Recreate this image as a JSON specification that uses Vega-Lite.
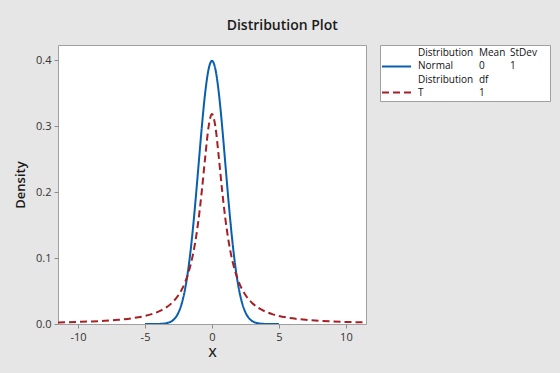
{
  "$schema": "https://vega.github.io/schema/vega-lite/v6.json",
  "background": "#e6e6e6",
  "padding": {"left": 14, "top": 18, "right": 11, "bottom": 13},
  "title": {"text": "Distribution Plot", "anchor": "middle", "frame": "bounds", "font": "Open Sans", "fontSize": 14, "fontWeight": 600, "color": "#1a1a1a", "offset": 12},
  "config": {"font": "Open Sans", "axis": {"labelFont": "Open Sans", "titleFont": "Open Sans"}},
  "datasets": {
    "curves": [
      {"dist": "Normal", "x": -5, "density": 0.0000015},
      {"dist": "Normal", "x": -4.75, "density": 0.000005},
      {"dist": "Normal", "x": -4.5, "density": 0.000016},
      {"dist": "Normal", "x": -4.25, "density": 0.000048},
      {"dist": "Normal", "x": -4, "density": 0.00013},
      {"dist": "Normal", "x": -3.75, "density": 0.00035},
      {"dist": "Normal", "x": -3.5, "density": 0.00087},
      {"dist": "Normal", "x": -3.25, "density": 0.00203},
      {"dist": "Normal", "x": -3, "density": 0.00443},
      {"dist": "Normal", "x": -2.75, "density": 0.00909},
      {"dist": "Normal", "x": -2.5, "density": 0.01753},
      {"dist": "Normal", "x": -2.25, "density": 0.03174},
      {"dist": "Normal", "x": -2, "density": 0.05399},
      {"dist": "Normal", "x": -1.75, "density": 0.08628},
      {"dist": "Normal", "x": -1.5, "density": 0.12952},
      {"dist": "Normal", "x": -1.25, "density": 0.18265},
      {"dist": "Normal", "x": -1, "density": 0.24197},
      {"dist": "Normal", "x": -0.75, "density": 0.30114},
      {"dist": "Normal", "x": -0.5, "density": 0.35207},
      {"dist": "Normal", "x": -0.25, "density": 0.38667},
      {"dist": "Normal", "x": 0, "density": 0.39894},
      {"dist": "Normal", "x": 0.25, "density": 0.38667},
      {"dist": "Normal", "x": 0.5, "density": 0.35207},
      {"dist": "Normal", "x": 0.75, "density": 0.30114},
      {"dist": "Normal", "x": 1, "density": 0.24197},
      {"dist": "Normal", "x": 1.25, "density": 0.18265},
      {"dist": "Normal", "x": 1.5, "density": 0.12952},
      {"dist": "Normal", "x": 1.75, "density": 0.08628},
      {"dist": "Normal", "x": 2, "density": 0.05399},
      {"dist": "Normal", "x": 2.25, "density": 0.03174},
      {"dist": "Normal", "x": 2.5, "density": 0.01753},
      {"dist": "Normal", "x": 2.75, "density": 0.00909},
      {"dist": "Normal", "x": 3, "density": 0.00443},
      {"dist": "Normal", "x": 3.25, "density": 0.00203},
      {"dist": "Normal", "x": 3.5, "density": 0.00087},
      {"dist": "Normal", "x": 3.75, "density": 0.00035},
      {"dist": "Normal", "x": 4, "density": 0.00013},
      {"dist": "Normal", "x": 4.25, "density": 0.000048},
      {"dist": "Normal", "x": 4.5, "density": 0.000016},
      {"dist": "Normal", "x": 4.75, "density": 0.000005},
      {"dist": "Normal", "x": 5, "density": 0.0000015},
      {"dist": "T", "x": -11.5, "density": 0.00239},
      {"dist": "T", "x": -11, "density": 0.00261},
      {"dist": "T", "x": -10, "density": 0.00315},
      {"dist": "T", "x": -9, "density": 0.00388},
      {"dist": "T", "x": -8, "density": 0.0049},
      {"dist": "T", "x": -7, "density": 0.00637},
      {"dist": "T", "x": -6, "density": 0.0086},
      {"dist": "T", "x": -5, "density": 0.01224},
      {"dist": "T", "x": -4.5, "density": 0.01498},
      {"dist": "T", "x": -4, "density": 0.01872},
      {"dist": "T", "x": -3.5, "density": 0.02402},
      {"dist": "T", "x": -3, "density": 0.03183},
      {"dist": "T", "x": -2.5, "density": 0.0439},
      {"dist": "T", "x": -2, "density": 0.06366},
      {"dist": "T", "x": -1.75, "density": 0.07835},
      {"dist": "T", "x": -1.5, "density": 0.09794},
      {"dist": "T", "x": -1.25, "density": 0.12422},
      {"dist": "T", "x": -1, "density": 0.15915},
      {"dist": "T", "x": -0.75, "density": 0.20372},
      {"dist": "T", "x": -0.5, "density": 0.25465},
      {"dist": "T", "x": -0.25, "density": 0.29959},
      {"dist": "T", "x": 0, "density": 0.31831},
      {"dist": "T", "x": 0.25, "density": 0.29959},
      {"dist": "T", "x": 0.5, "density": 0.25465},
      {"dist": "T", "x": 0.75, "density": 0.20372},
      {"dist": "T", "x": 1, "density": 0.15915},
      {"dist": "T", "x": 1.25, "density": 0.12422},
      {"dist": "T", "x": 1.5, "density": 0.09794},
      {"dist": "T", "x": 1.75, "density": 0.07835},
      {"dist": "T", "x": 2, "density": 0.06366},
      {"dist": "T", "x": 2.5, "density": 0.0439},
      {"dist": "T", "x": 3, "density": 0.03183},
      {"dist": "T", "x": 3.5, "density": 0.02402},
      {"dist": "T", "x": 4, "density": 0.01872},
      {"dist": "T", "x": 4.5, "density": 0.01498},
      {"dist": "T", "x": 5, "density": 0.01224},
      {"dist": "T", "x": 6, "density": 0.0086},
      {"dist": "T", "x": 7, "density": 0.00637},
      {"dist": "T", "x": 8, "density": 0.0049},
      {"dist": "T", "x": 9, "density": 0.00388},
      {"dist": "T", "x": 10, "density": 0.00315},
      {"dist": "T", "x": 11, "density": 0.00261},
      {"dist": "T", "x": 11.5, "density": 0.00239}
    ],
    "legendText": [
      {"col": 3.8, "row": 1, "label": "Distribution"},
      {"col": 9.9, "row": 1, "label": "Mean"},
      {"col": 13.0, "row": 1, "label": "StDev"},
      {"col": 3.8, "row": 2, "label": "Normal"},
      {"col": 9.9, "row": 2, "label": "0"},
      {"col": 13.0, "row": 2, "label": "1"},
      {"col": 3.8, "row": 3, "label": "Distribution"},
      {"col": 9.9, "row": 3, "label": "df"},
      {"col": 3.8, "row": 4, "label": "T"},
      {"col": 9.9, "row": 4, "label": "1"}
    ],
    "legendSymbols": [
      {"dist": "Normal", "row": 2, "start": 0.2, "end": 3.1},
      {"dist": "T", "row": 4, "start": 0.2, "end": 3.1}
    ]
  },
  "hconcat": [
    {
      "width": 308,
      "height": 279,
      "view": {"fill": "white", "stroke": "#a0a0a0", "strokeWidth": 1},
      "data": {"name": "curves"},
      "mark": {"type": "line", "strokeWidth": 2, "interpolate": "monotone", "clip": true},
      "encoding": {
        "x": {"field": "x", "type": "quantitative", "title": "X",
          "scale": {"domain": [-11.5, 11.5], "nice": false, "zero": false},
          "axis": {"values": [-10, -5, 0, 5, 10], "labelExpr": "replace(datum.label, '−', '-')", "grid": false, "domain": false, "tickColor": "#8c8c8c", "tickSize": 4, "labelPadding": 3, "labelFontSize": 11, "labelColor": "#333333", "titleFontSize": 13, "titleFontWeight": 600, "titleColor": "#1a1a1a", "titlePadding": 4}},
        "y": {"field": "density", "type": "quantitative", "title": "Density",
          "scale": {"domain": [0, 0.423], "nice": false},
          "axis": {"values": [0, 0.1, 0.2, 0.3, 0.4], "format": ".1f", "grid": false, "domain": false, "tickColor": "#8c8c8c", "tickSize": 4, "labelPadding": 3, "labelFontSize": 11, "labelColor": "#333333", "titleFontSize": 13, "titleFontWeight": 600, "titleColor": "#1a1a1a", "titlePadding": 8}},
        "color": {"field": "dist", "type": "nominal", "scale": {"domain": ["Normal", "T"], "range": ["#0a5eb0", "#a51f24"]}, "legend": null},
        "strokeDash": {"field": "dist", "type": "nominal", "scale": {"domain": ["Normal", "T"], "range": [[1, 0], [7, 4]]}, "legend": null}
      }
    },
    {
      "width": 170,
      "height": 56,
      "view": {"fill": "white", "stroke": "#a0a0a0", "strokeWidth": 1},
      "layer": [
        {
          "data": {"name": "legendSymbols"},
          "mark": {"type": "rule", "strokeWidth": 2},
          "encoding": {
            "x": {"field": "start", "type": "quantitative", "scale": {"domain": [0, 17], "nice": false, "zero": false}, "axis": null},
            "x2": {"field": "end"},
            "y": {"field": "row", "type": "ordinal", "scale": {"domain": [1, 2, 3, 4], "type": "point", "padding": 0.65}, "axis": null},
            "color": {"field": "dist", "type": "nominal", "scale": {"domain": ["Normal", "T"], "range": ["#0a5eb0", "#a51f24"]}, "legend": null},
            "strokeDash": {"field": "dist", "type": "nominal", "scale": {"domain": ["Normal", "T"], "range": [[1, 0], [6, 4]]}, "legend": null}
          }
        },
        {
          "data": {"name": "legendText"},
          "mark": {"type": "text", "align": "left", "baseline": "middle", "fontSize": 10, "color": "#111111", "font": "Open Sans"},
          "encoding": {
            "x": {"field": "col", "type": "quantitative", "scale": {"domain": [0, 17], "nice": false, "zero": false}, "axis": null},
            "y": {"field": "row", "type": "ordinal", "scale": {"domain": [1, 2, 3, 4], "type": "point", "padding": 0.65}, "axis": null},
            "text": {"field": "label", "type": "nominal"}
          }
        }
      ]
    }
  ],
  "spacing": 12
}
